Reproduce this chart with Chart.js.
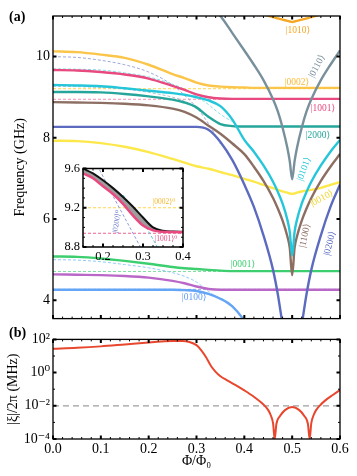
<!DOCTYPE html>
<html>
<head>
<meta charset="utf-8">
<script src="https://cdn.jsdelivr.net/npm/chart.js@4.4.1/dist/chart.umd.min.js"></script>
<style>
  body { margin: 0; background: #fff; }
  #wrap { position: relative; width: 357px; height: 476px; background: #fff; overflow: hidden; }
  canvas { position: absolute; }
  .tag { position: absolute; font: bold 14px 'Liberation Serif', serif; color: #000; }
</style>
</head>
<body>
<div id="wrap">
  <canvas id="spectrum" width="357" height="330" style="left:0;top:0"></canvas>
  <canvas id="inset" width="160" height="110" style="left:40px;top:158px"></canvas>
  <canvas id="coupling" width="357" height="148" style="left:0;top:328px"></canvas>
  <div class="tag" style="left:9px;top:9px">(a)</div>
  <div class="tag" style="left:9px;top:325px">(b)</div>
</div>
<script>
// Spectrum vs flux (a), inset zoom, and coupling |xi| (b)
const SERIF = "'Liberation Serif', 'DejaVu Serif', serif";
const N = null;

// ---- panel (a) data ----
const phi = [0, 0.05, 0.1, 0.15, 0.2, 0.25, 0.275, 0.3, 0.325, 0.35, 0.375, 0.4, 0.42, 0.44,
             0.46, 0.47, 0.48, 0.49, 0.495, 0.5, 0.505, 0.51, 0.52, 0.53, 0.54, 0.56, 0.58, 0.6];

const f1010 = [N, N, N, N, N, N, N, N, N, N, N, 11.25, 11.15, 11.05,
               10.97, 10.94, 10.91, 10.88, 10.865, 10.85, 10.865, 10.88, 10.91, 10.94, 10.97, 11.05, 11.15, 11.25];
const f0002 = [10.13, 10.11, 10.05, 9.97, 9.8, 9.57, 9.47, 9.36, 9.29, 9.26, 9.245, 9.24, 9.23, 9.23,
               9.23, 9.23, 9.23, 9.23, 9.23, 9.23, 9.23, 9.23, 9.23, 9.23, 9.23, 9.23, 9.23, 9.23];
const f1001 = [9.67, 9.66, 9.62, 9.56, 9.46, 9.28, 9.18, 9.07, 9.0, 8.97, 8.96, 8.96, 8.96, 8.96,
               8.96, 8.96, 8.96, 8.96, 8.96, 8.96, 8.96, 8.96, 8.96, 8.96, 8.96, 8.96, 8.96, 8.96];
const f0101 = [9.3, 9.29, 9.27, 9.22, 9.16, 9.1, 9.06, 9.0, 8.92, 8.78, 8.45, 7.95, 7.66, 7.32,
               6.92, 6.67, 6.38, 5.98, 5.68, 5.1, 5.68, 5.98, 6.38, 6.67, 6.92, 7.32, 7.66, 7.95];
const f2000 = [9.13, 9.13, 9.12, 9.08, 9.02, 8.94, 8.87, 8.75, 8.52, 8.34, 8.29, 8.28, 8.28, 8.28,
               8.28, 8.28, 8.28, 8.28, 8.28, 8.28, 8.28, 8.28, 8.28, 8.28, 8.28, 8.28, 8.28, 8.28];
const f1100 = [8.88, 8.87, 8.86, 8.84, 8.8, 8.72, 8.64, 8.5, 8.3, 8.1, 7.86, 7.6, 7.29, 6.94,
               6.52, 6.26, 5.96, 5.57, 5.29, 4.62, 5.29, 5.57, 5.96, 6.26, 6.52, 6.94, 7.29, 7.6];
const f0200 = [8.27, 8.27, 8.27, 8.27, 8.27, 8.27, 8.27, 8.27, 8.2, 7.9, 7.45, 6.85, 6.3, 5.6,
               4.75, 4.15, 3.4, 2.7, 2.4, 2.2, 2.4, 2.7, 3.4, 4.15, 4.75, 5.6, 6.3, 6.85];
const f0110 = [N, N, N, N, N, N, N, 11.6, 11.3, 11.0, 10.58, 10.15, 9.8, 9.42,
               8.95, 8.65, 8.25, 7.75, 7.42, 6.98, 7.42, 7.75, 8.25, 8.65, 8.95, 9.42, 9.8, 10.15];
const f0010 = [7.93, 7.92, 7.87, 7.78, 7.65, 7.48, 7.39, 7.3, 7.24, 7.16, 7.08, 6.99, 6.92, 6.84,
               6.76, 6.72, 6.68, 6.65, 6.63, 6.62, 6.63, 6.65, 6.68, 6.7, 6.72, 6.77, 6.84, 6.91];
const f0001 = [5.08, 5.07, 5.03, 4.97, 4.9, 4.82, 4.79, 4.77, 4.75, 4.73, 4.72, 4.72, 4.72, 4.72,
               4.72, 4.72, 4.72, 4.72, 4.72, 4.72, 4.72, 4.72, 4.72, 4.72, 4.72, 4.72, 4.72, 4.72];
const f1000 = [4.64, 4.63, 4.62, 4.6, 4.56, 4.48, 4.42, 4.34, 4.28, 4.26, 4.26, 4.26, 4.26, 4.26,
               4.26, 4.26, 4.26, 4.26, 4.26, 4.26, 4.26, 4.26, 4.26, 4.26, 4.26, 4.26, 4.26, 4.26];
const f0100 = [4.26, 4.26, 4.26, 4.26, 4.26, 4.26, 4.25, 4.23, 4.16, 4.04, 3.85, 3.5, 3.1, 2.6,
               N, N, N, N, N, N, N, N, N, N, N, N, N, N];

// bare (uncoupled) levels, dashed
const bare0200 = [10.0, 9.98, 9.91, 9.8, 9.62, 9.3, 9.05, 8.75, 8.35, 7.85, N, N, N, N,
                  N, N, N, N, N, N, N, N, N, N, N, N, N, N];
const bare0101 = [9.7, 9.69, 9.67, 9.6, 9.5, 9.32, 9.2, 9.02, 8.82, 8.58, 8.4, N, N, N,
                  N, N, N, N, N, N, N, N, N, N, N, N, N, N];
const bare2000 = [9.27, 9.26, 9.24, 9.2, 9.12, 9.0, 8.9, 8.72, 8.5, N, N, N, N, N,
                  N, N, N, N, N, N, N, N, N, N, N, N, N, N];
const bare0100 = [5.0, 4.99, 4.95, 4.88, 4.8, 4.68, 4.59, 4.45, 4.22, 4.02, N, N, N, N,
                  N, N, N, N, N, N, N, N, N, N, N, N, N, N];
const flatPhi = [0, 0.6];
const bare0002 = [9.21, 9.21];
const bare1001 = [8.95, 8.95];
const bare0001 = [4.71, 4.71];
const bare1000 = [4.27, 4.27];
const shortPhi = [0, 0.3];
const bare0020 = [8.27, 8.27];

const freqTicks = [4, 6, 8, 10];
const phiTicks = [0, 0.1, 0.2, 0.3, 0.4, 0.5, 0.6];

const mainLabels = [
  { t: '|1010\u27E9', phi: 0.512, f: 10.65, c: '#f5a623', r: 0 },
  { t: '|0110\u27E9', phi: 0.552, f: 9.76, c: '#78909c', r: -62 },
  { t: '|0002\u27E9', phi: 0.51, f: 9.37, c: '#f9b934', r: 0 },
  { t: '|1001\u27E9', phi: 0.564, f: 8.72, c: '#e84a7f', r: 0 },
  { t: '|2000\u27E9', phi: 0.554, f: 8.07, c: '#26a69a', r: 0 },
  { t: '|0101\u27E9', phi: 0.525, f: 7.23, c: '#26c6da', r: -70 },
  { t: '|0010\u27E9', phi: 0.562, f: 6.51, c: '#eed530', r: -28 },
  { t: '|1100\u27E9', phi: 0.527, f: 5.59, c: '#8d6e63', r: -78 },
  { t: '|0200\u27E9', phi: 0.579, f: 5.40, c: '#5c6bc0', r: -76 },
  { t: '|0001\u27E9', phi: 0.397, f: 4.87, c: '#3dce6f', r: 0 },
  { t: '|0100\u27E9', phi: 0.295, f: 4.07, c: '#5e9cf5', r: 0 }
];

// ---- inset data ----
const insetPhi = [0.15, 0.175, 0.2, 0.225, 0.25, 0.275, 0.3, 0.325, 0.35, 0.375, 0.4];
const insetUpper = [9.6, 9.55, 9.48, 9.4, 9.31, 9.21, 9.1, 9.0, 8.965, 8.958, 8.955];
const insetLower = [9.55, 9.5, 9.42, 9.34, 9.24, 9.12, 9.02, 8.97, 8.955, 8.952, 8.95];
const insetBare0200 = [9.9, 9.71, 9.52, 9.32, 9.13, 8.94, 8.75, N, N, N, N];
const insetBare0101 = [N, N, N, N, 9.33, 9.2, 9.05, 8.88, 8.68, N, N];
const insetFlatPhi = [0.15, 0.4];
const insetBare0002 = [9.2, 9.2];
const insetBare1001 = [8.94, 8.94];
const insetFreqTicks = [8.8, 9.2, 9.6];
const insetPhiTicks = [0.2, 0.3, 0.4];
const insetLabels = [
  { t: '|0002\u27E9\u2070', phi: 0.3525, f: 9.256, c: '#f5b82e', r: 0 },
  { t: '|1001\u27E9\u2070', phi: 0.3575, f: 8.88, c: '#e84a7f', r: 0 },
  { t: '|0200\u27E9\u2070', phi: 0.235, f: 9.06, c: '#5c6bc0', r: -80 }
];

// ---- panel (b) data ----
const xiPhi = [0, 0.05, 0.1, 0.15, 0.2, 0.225, 0.25, 0.27, 0.285, 0.3, 0.31, 0.32, 0.33, 0.34, 0.35,
               0.365, 0.38, 0.4, 0.42, 0.44, 0.45, 0.455, 0.46, 0.4635, 0.467, 0.475, 0.485, 0.5,
               0.515, 0.525, 0.533, 0.5365, 0.54, 0.545, 0.55, 0.56, 0.57, 0.585, 0.6];
const xiMHz = [27, 31, 38, 50, 66, 74, 81, 80, 70, 45, 22, 8.5, 2.6, 1.1, 0.6,
               0.33, 0.19, 0.085, 0.035, 0.012, 0.0055, 0.0028, 0.0009, 0.0001, 0.0008, 0.0025, 0.0055, 0.0085,
               0.0055, 0.0025, 0.0008, 0.0001, 0.0009, 0.0028, 0.0055, 0.012, 0.022, 0.045, 0.09];
const refPhi = [0, 0.6];
const refXi = [0.01, 0.01];
const xiTicks = [1e-4, 1e-2, 1, 1e2];
const xiTickText = { '0.0001': '10\u207B\u2074', '0.01': '10\u207B\u00B2', '1': '10\u2070', '100': '10\u00B2' };

// ---- helpers ----
function line(xs, ys, color, width, dash) {
  return {
    data: xs.map((x, i) => ({ x: x, y: ys[i] })),
    borderColor: color,
    borderWidth: width,
    borderDash: dash || [],
    pointRadius: 0,
    fill: false,
    cubicInterpolationMode: 'monotone',
    spanGaps: false
  };
}

function spaced(a, b, step) {
  const out = [];
  for (let v = a; v <= b + 1e-9; v += step) out.push(+v.toFixed(4));
  return out;
}

function frameTicks(cfg) {
  return {
    id: 'frameTicks',
    afterDraw(chart) {
      const { ctx, chartArea: a, scales } = chart;
      const sx = scales.x, sy = scales.y;
      ctx.save();
      ctx.strokeStyle = '#000';
      const mark = (vals, len, w, horiz) => {
        ctx.lineWidth = w;
        ctx.beginPath();
        vals.forEach(v => {
          if (horiz) {
            const p = sx.getPixelForValue(v);
            ctx.moveTo(p, a.bottom); ctx.lineTo(p, a.bottom - len);
            ctx.moveTo(p, a.top); ctx.lineTo(p, a.top + len);
          } else {
            const p = sy.getPixelForValue(v);
            ctx.moveTo(a.left, p); ctx.lineTo(a.left + len, p);
            ctx.moveTo(a.right, p); ctx.lineTo(a.right - len, p);
          }
        });
        ctx.stroke();
      };
      mark(cfg.xMinor || [], 2, 1, true);
      mark(cfg.xMajor, 3.5, 2, true);
      mark(cfg.yMinor || [], 2, 1, false);
      mark(cfg.yMajor, 3.5, 2, false);
      ctx.lineWidth = cfg.border;
      ctx.strokeRect(a.left, a.top, a.right - a.left, a.bottom - a.top);
      ctx.restore();
    }
  };
}

function stateLabels(items, size) {
  return {
    id: 'stateLabels',
    afterDatasetsDraw(chart) {
      const { ctx, scales: { x, y } } = chart;
      ctx.save();
      ctx.font = size + 'px ' + SERIF;
      ctx.textAlign = 'center';
      ctx.textBaseline = 'middle';
      items.forEach(it => {
        ctx.save();
        ctx.translate(x.getPixelForValue(it.phi), y.getPixelForValue(it.f));
        ctx.rotate(it.r * Math.PI / 180);
        ctx.fillStyle = it.c;
        ctx.fillText(it.t, 0, 0);
        ctx.restore();
      });
      ctx.restore();
    }
  };
}

const whiteArea = {
  id: 'whiteArea',
  beforeDraw(chart) {
    const { ctx, chartArea: a } = chart;
    ctx.save();
    ctx.fillStyle = '#fff';
    ctx.fillRect(a.left, a.top, a.right - a.left, a.bottom - a.top);
    ctx.restore();
  }
};

const tickFont = size => ({ family: SERIF, size: size });
const DASH = [3, 2];

// ---- panel (a) ----
new Chart(document.getElementById('spectrum'), {
  type: 'line',
  data: {
    datasets: [
      line(phi, f1010, '#f5a623', 2.4),
      line(phi, f0110, '#78909c', 2.4),
      line(phi, f0002, '#fbc54a', 2.4),
      line(phi, f1001, '#e84a7f', 2.4),
      line(phi, f0101, '#26c6da', 2.4),
      line(phi, f2000, '#26a69a', 2.4),
      line(phi, f1100, '#8d6e63', 2.4),
      line(phi, f0200, '#5c6bc0', 2.4),
      line(phi, f0010, '#fde84c', 2.4),
      line(phi, f0001, '#3dce6f', 2.4),
      line(phi, f1000, '#ba68c8', 2.4),
      line(phi, f0100, '#64a5f5', 2.4),
      line(phi, bare0200, '#9fa8da', 1, DASH),
      line(phi, bare0101, '#80deea', 1, DASH),
      line(phi, bare2000, '#a7c4cc', 1, DASH),
      line(phi, bare0100, '#90caf9', 1, DASH),
      line(flatPhi, bare0002, '#ffd54f', 1, DASH),
      line(flatPhi, bare1001, '#f48fb1', 1, DASH),
      line(flatPhi, bare0001, '#7ee0a0', 1, DASH),
      line(flatPhi, bare1000, '#9fa8da', 1, DASH),
      line(shortPhi, bare0020, '#a9c8ee', 1, DASH)
    ]
  },
  options: {
    responsive: false,
    animation: false,
    layout: { padding: { left: 0, right: 17, top: 16, bottom: 5 } },
    plugins: { legend: { display: false }, tooltip: { enabled: false } },
    scales: {
      x: { type: 'linear', min: 0, max: 0.6, display: false },
      y: {
        min: 3.55, max: 11,
        grid: { display: false, drawTicks: false },
        border: { display: false },
        afterBuildTicks: s => { s.ticks = freqTicks.map(v => ({ value: v })); },
        afterFit: s => { s.width = 53; },
        ticks: { color: '#000', font: tickFont(14), padding: 3 },
        title: { display: true, text: 'Frequency (GHz)', color: '#000', font: tickFont(14), padding: { top: 12, bottom: 0 } }
      }
    }
  },
  plugins: [
    frameTicks({ xMajor: phiTicks, xMinor: spaced(0, 0.6, 0.02), yMajor: freqTicks, border: 1.3 }),
    stateLabels(mainLabels, 9.5)
  ]
});

// ---- inset ----
new Chart(document.getElementById('inset'), {
  type: 'line',
  data: {
    datasets: [
      line(insetPhi, insetLower, '#e84a7f', 2.5),
      Object.assign(line(insetPhi, insetUpper, '#111', 2), { fill: '-1', backgroundColor: '#9e9e9e' }),
      line(insetPhi, insetBare0200, '#8c9be0', 1, DASH),
      line(insetPhi, insetBare0101, '#4dd0e1', 1, DASH),
      line(insetFlatPhi, insetBare0002, '#ffd54f', 1, DASH),
      line(insetFlatPhi, insetBare1001, '#f06292', 1, DASH)
    ]
  },
  options: {
    responsive: false,
    animation: false,
    layout: { padding: { left: 0, right: 17, top: 10, bottom: 0 } },
    plugins: { legend: { display: false }, tooltip: { enabled: false } },
    scales: {
      x: {
        type: 'linear', min: 0.15, max: 0.4,
        grid: { display: false, drawTicks: false },
        border: { display: false },
        afterBuildTicks: s => { s.ticks = insetPhiTicks.map(v => ({ value: v })); },
        afterFit: s => { s.height = 21; },
        ticks: { color: '#000', font: tickFont(12.5), padding: 2, maxRotation: 0, callback: v => v.toFixed(1) }
      },
      y: {
        min: 8.8, max: 9.6,
        grid: { display: false, drawTicks: false },
        border: { display: false },
        afterBuildTicks: s => { s.ticks = insetFreqTicks.map(v => ({ value: v })); },
        afterFit: s => { s.width = 43; },
        ticks: { color: '#000', font: tickFont(12.5), padding: 3, callback: v => v.toFixed(1) }
      }
    }
  },
  plugins: [
    whiteArea,
    frameTicks({ xMajor: insetPhiTicks, xMinor: spaced(0.15, 0.4, 0.025), yMajor: insetFreqTicks,
                 yMinor: spaced(8.8, 9.6, 0.1), border: 1.5 }),
    stateLabels(insetLabels, 7.5)
  ]
});

// ---- panel (b) ----
new Chart(document.getElementById('coupling'), {
  type: 'line',
  data: {
    datasets: [
      line(xiPhi, xiMHz, '#e8472e', 2),
      line(refPhi, refXi, '#9e9e9e', 1.3, [6, 4])
    ]
  },
  options: {
    responsive: false,
    animation: false,
    layout: { padding: { left: 0, right: 17, top: 4, bottom: 0 } },
    plugins: { legend: { display: false }, tooltip: { enabled: false } },
    scales: {
      x: {
        type: 'linear', min: 0, max: 0.6,
        grid: { display: false, drawTicks: false },
        border: { display: false },
        afterBuildTicks: s => { s.ticks = phiTicks.map(v => ({ value: v })); },
        afterFit: s => { s.height = 37; },
        ticks: { color: '#000', font: tickFont(14), padding: 2, maxRotation: 0, callback: v => v.toFixed(1) },
        title: { display: true, text: '\u03A6/\u03A6\u2080', color: '#000', font: tickFont(14), padding: { top: 0, bottom: 6 } }
      },
      y: {
        type: 'logarithmic', min: 1e-4, max: 1e2,
        grid: { display: false, drawTicks: false },
        border: { display: false },
        afterBuildTicks: s => { s.ticks = xiTicks.map(v => ({ value: v })); },
        afterFit: s => { s.width = 53; },
        ticks: { color: '#000', font: tickFont(14), padding: 3, autoSkip: false,
                 callback: v => xiTickText[String(v)] || '' },
        title: { display: true, text: '|\u03BE|/2\u03C0 (MHz)', color: '#000', font: tickFont(14), padding: { top: 5, bottom: 0 } }
      }
    }
  },
  plugins: [
    frameTicks({ xMajor: phiTicks, xMinor: spaced(0, 0.6, 0.02), yMajor: xiTicks,
                 yMinor: [1e-3, 1e-1, 1e1], border: 1.3 })
  ]
});
</script>
</body>
</html>
